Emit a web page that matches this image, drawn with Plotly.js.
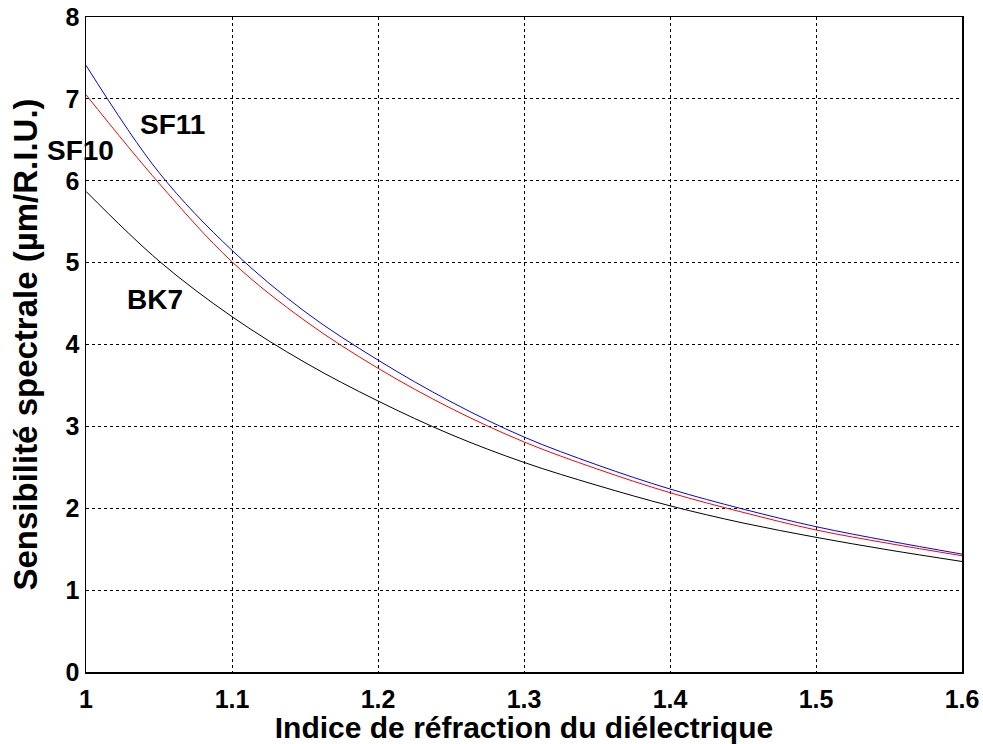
<!DOCTYPE html>
<html>
<head>
<meta charset="utf-8">
<script src="https://cdn.plot.ly/plotly-3.0.1.min.js"></script>
<style>html,body{margin:0;padding:0;background:#fff;}#plot{width:983px;height:744px;}</style>
</head>
<body>
<div id="plot"></div>
<script>
const indexN = [1.00, 1.05, 1.10, 1.15, 1.20, 1.25, 1.30, 1.35, 1.40, 1.45, 1.50, 1.55, 1.60];
const sf11 = [7.41, 6.10, 5.15, 4.40, 3.81, 3.30, 2.87, 2.53, 2.235, 1.99, 1.775, 1.60, 1.44];
const sf10 = [7.05, 5.97, 5.01, 4.29, 3.71, 3.22, 2.81, 2.48, 2.19, 1.95, 1.735, 1.57, 1.42];
const bk7  = [5.87, 5.02, 4.34, 3.78, 3.31, 2.90, 2.56, 2.28, 2.03, 1.82, 1.645, 1.49, 1.35];
const xTicks = [1, 1.1, 1.2, 1.3, 1.4, 1.5, 1.6];
const xTickText = ['1', '1.1', '1.2', '1.3', '1.4', '1.5', '1.6'];
const yTicks = [0, 1, 2, 3, 4, 5, 6, 7, 8];
const labels = ['SF11', 'SF10', 'BK7'];
const labelX = [1.0594, 1.0, 1.047];
const labelY = [6.685, 6.374, 4.554];
const labelShift = [0, -6, 0];

const fontFam = '"Liberation Sans", Arial, sans-serif';
function tr(y, color, name) {
  return {x: indexN, y: y, type: 'scatter', mode: 'lines', name: name,
    line: {color: color, width: 1, shape: 'spline', smoothing: 1}};
}
const data = [tr(bk7, '#000000', 'BK7'), tr(sf10, '#ff0000', 'SF10'), tr(sf11, '#0000ff', 'SF11')];
const annotations = labels.map((t, i) => ({
  x: labelX[i], y: labelY[i], xref: 'x', yref: 'y', text: t, showarrow: false,
  xshift: labelShift[i],
  font: {family: fontFam, size: 28, color: '#000', weight: 'bold'}
}));
const axisCommon = {
  showline: true, linecolor: '#000', linewidth: 1.5, mirror: true,
  showgrid: true, gridcolor: '#000', gridwidth: 1, griddash: '3px,3px',
  zeroline: false, ticks: '',
  tickfont: {family: fontFam, size: 25, color: '#000', weight: 'bold'}
};
const layout = {
  width: 983, height: 744,
  margin: {l: 86, r: 21, t: 17, b: 72},
  paper_bgcolor: '#fff', plot_bgcolor: '#fff',
  showlegend: false,
  font: {family: fontFam, color: '#000'},
  xaxis: Object.assign({}, axisCommon, {
    range: [1, 1.6], tickvals: xTicks, ticktext: xTickText, ticklabelstandoff: 4,
    automargin: false,
    title: {text: 'Indice de réfraction du diélectrique', standoff: 2,
      font: {family: fontFam, size: 30, color: '#000', weight: 'bold'}}
  }),
  yaxis: Object.assign({}, axisCommon, {
    range: [0, 8], tickvals: yTicks, automargin: false,
    title: {text: 'Sensibilité spectrale (µm/R.I.U.)', standoff: 18,
      font: {family: fontFam, size: 33, color: '#000', weight: 'bold'}}
  }),
  annotations: annotations
};
Plotly.newPlot('plot', data, layout, {staticPlot: true, displayModeBar: false});
</script>
</body>
</html>
